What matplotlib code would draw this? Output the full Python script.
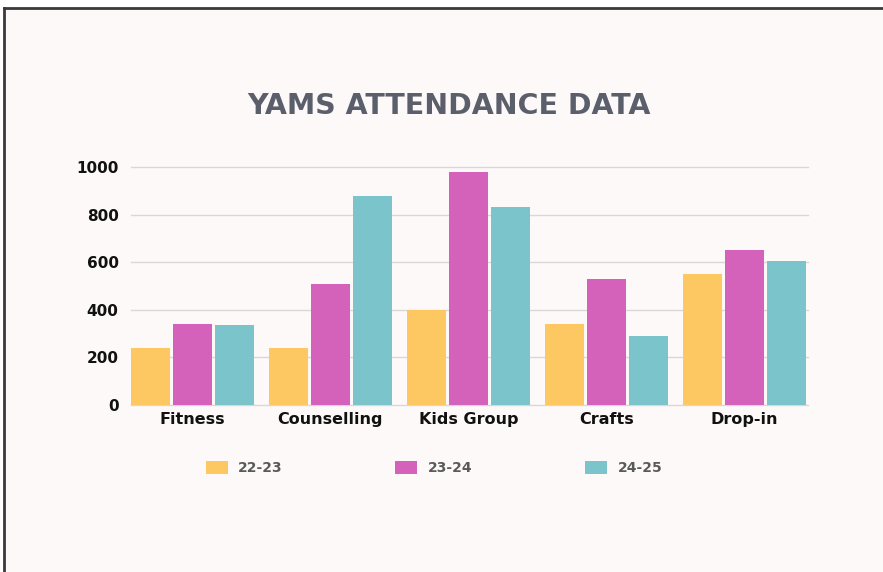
import numpy as np
import matplotlib
matplotlib.use('Agg')
import matplotlib.pyplot as plt
from matplotlib.lines import Line2D

categories = ['Fitness', 'Counselling', 'Kids Group', 'Crafts', 'Drop-in']
seasons = ['22-23', '23-24', '24-25']
att_22_23 = [240, 240, 399, 339, 549]
att_23_24 = [339, 508, 979, 529, 652]
att_24_25 = [335, 878, 832, 291, 606]
yticks = [0, 200, 400, 600, 800, 1000]

colors = ['#FDC862', '#D562BA', '#7CC4CC']
bg = '#FDF9F8'

plt.rcParams['font.family'] = ['DejaVu Sans']

fig = plt.figure(figsize=(8.83, 5.72), dpi=100)
fig.patch.set_facecolor(bg)

# white margin + dark border on left/top
fig.add_artist(plt.Rectangle((0, 0), 4 / 883, 1, transform=fig.transFigure,
                             facecolor='white', edgecolor='none'))
fig.add_artist(plt.Rectangle((0, 1 - 8 / 572), 1, 8 / 572, transform=fig.transFigure,
                             facecolor='white', edgecolor='none'))
fig.add_artist(Line2D([4 / 883, 4 / 883], [0, 1 - 8 / 572], transform=fig.transFigure,
                      color='#3a3a3a', lw=2))
fig.add_artist(Line2D([4 / 883, 1], [1 - 8 / 572, 1 - 8 / 572], transform=fig.transFigure,
                      color='#3a3a3a', lw=2))

ax = fig.add_axes([131 / 883, 1 - 405 / 572, (808 - 131) / 883, (405 - 167) / 572])
ax.set_facecolor('none')

x = np.arange(len(categories))
w = 0.283
step = 0.304
for i, vals in enumerate([att_22_23, att_23_24, att_24_25]):
    ax.bar(x + (i - 1) * step, vals, width=w, color=colors[i], label=seasons[i], zorder=3)

ax.set_xlim(-step - w / 2, len(categories) - 1 + step + w / 2 + 0.015)
ax.set_ylim(0, 1000)
ax.set_yticks(yticks)
ax.set_yticklabels([str(t) for t in yticks])
ax.set_xticks(x)
ax.set_xticklabels(categories)
for y in yticks:
    ax.axhline(y, color='#D8D8D8', lw=1, zorder=1, clip_on=False)
for s in ax.spines.values():
    s.set_visible(False)
ax.tick_params(axis='both', length=0, labelcolor='#111111')
ax.tick_params(axis='y', pad=9, labelsize=11)
ax.tick_params(axis='x', pad=5, labelsize=11.5)
for lab in ax.get_xticklabels() + ax.get_yticklabels():
    lab.set_fontweight('bold')

fig.text(449 / 883, 1 - 106 / 572, 'YAMS ATTENDANCE DATA', ha='center', va='center',
         fontsize=20.5, fontweight='bold', color='#5B5F6C')

leg = fig.legend(loc='center left', bbox_to_anchor=(193 / 883, 1 - 468 / 572), ncol=3,
                 frameon=False, fontsize=10, handlelength=1.6, handleheight=1.1,
                 handletextpad=0.75, columnspacing=8.1)
for t in leg.get_texts():
    t.set_color('#5a5a5a')
    t.set_fontweight('bold')

plt.savefig('out.png', dpi=100, facecolor=fig.get_facecolor())
